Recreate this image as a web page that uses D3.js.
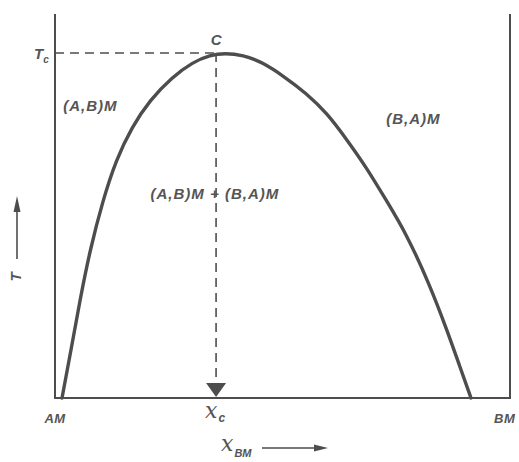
<!DOCTYPE html>
<html>
<head>
<meta charset="utf-8">
<script src="https://cdn.jsdelivr.net/npm/d3@7"></script>
<style>
  html, body { margin: 0; padding: 0; background: #fff; }
  svg { display: block; }
  .lbl { font-family: "Liberation Sans", Arial, sans-serif; font-style: italic; font-weight: bold; fill: #555; }
  .math { font-family: "DejaVu Serif", "Liberation Serif", serif; font-style: italic; fill: #555; }
</style>
</head>
<body>
<svg id="chart" width="519" height="462"></svg>
<script>
// Solvus (miscibility gap) of the (A,B)M – (B,A)M system.
// Composition x_BM runs from 0 (pure AM) to 1 (pure BM); T is scaled by Tc.
const solvusX = [0.0154, 0.0352, 0.0549, 0.0769, 0.1055, 0.1341, 0.1692, 0.2088, 0.2571, 0.3033, 0.3407, 0.3736, 0.4132, 0.4549, 0.5055, 0.5516, 0.5978, 0.6418, 0.6835, 0.7275, 0.7714, 0.8220, 0.8615, 0.8901, 0.9143];
const solvusT = [0.000, 0.139, 0.284, 0.429, 0.574, 0.690, 0.786, 0.864, 0.930, 0.974, 0.994, 1.000, 0.994, 0.974, 0.930, 0.884, 0.826, 0.748, 0.670, 0.574, 0.478, 0.333, 0.197, 0.090, 0.000];

// critical point C
const criticalX = [0.354];
const criticalT = [1.0];

// end-member labels along the composition axis
const endMembers = ["AM", "BM"];
const endMemberX = [0, 1];

// phase-field labels
const phaseLabels = ["(A,B)M", "(B,A)M", "(A,B)M + (B,A)M"];
const phaseX = [0.018, 0.728, 0.21];
const phaseT = [0.845, 0.81, 0.59];

const svg = d3.select("#chart");
const ink = "#4d4d4d";

const x = d3.scaleLinear().domain([0, 1]).range([55, 510]);
const y = d3.scaleLinear().domain([0, 1]).range([398, 53]);
const tTop = 1.113;

// frame: left axis, bottom axis, right edge
svg.append("path")
  .attr("d", `M${x(0)},${y(tTop)} L${x(0)},${y(0)} L${x(1)},${y(0)} L${x(1)},${y(tTop)}`)
  .attr("fill", "none").attr("stroke", ink).attr("stroke-width", 2);

// solvus curve (B-spline through the sampled points keeps it smooth)
const pts = solvusX.map((v, i) => [v, solvusT[i]]);
const line = d3.line().x(d => x(d[0])).y(d => y(d[1])).curve(d3.curveBasis);
svg.append("path").datum(pts)
  .attr("d", line)
  .attr("fill", "none").attr("stroke", ink).attr("stroke-width", 3.4)
  .attr("stroke-linecap", "round");

// dashed guides to Tc and xc
const xc = criticalX[0], tc = criticalT[0];
svg.append("line")
  .attr("x1", x(0)).attr("x2", x(xc)).attr("y1", y(tc)).attr("y2", y(tc))
  .attr("stroke", ink).attr("stroke-width", 1.6).attr("stroke-dasharray", "9,6");
svg.append("line")
  .attr("x1", x(xc)).attr("x2", x(xc)).attr("y1", y(tc)).attr("y2", y(0) - 14)
  .attr("stroke", ink).attr("stroke-width", 1.6).attr("stroke-dasharray", "9,6");

// arrowhead marking xc on the composition axis
svg.append("path")
  .attr("d", `M${x(xc) - 10},${y(0) - 15} L${x(xc) + 10},${y(0) - 15} L${x(xc)},${y(0) - 1} Z`)
  .attr("fill", ink);

// C label
svg.append("text").attr("class", "lbl")
  .attr("x", x(xc)).attr("y", y(tc) - 8)
  .attr("text-anchor", "middle").attr("font-size", 15)
  .text("C");

// Tc label
const tcLabel = svg.append("text").attr("class", "lbl")
  .attr("x", 34).attr("y", y(tc) + 6).attr("font-size", 15);
tcLabel.append("tspan").text("T");
tcLabel.append("tspan").attr("dx", 0).attr("dy", 4).attr("font-size", 10).text("c");

// phase fields
phaseLabels.forEach((t, i) => {
  svg.append("text").attr("class", "lbl")
    .attr("x", x(phaseX[i])).attr("y", y(phaseT[i]) + 5)
    .attr("font-size", 15).attr("letter-spacing", 1)
    .text(t);
});

// end members
endMembers.forEach((t, i) => {
  svg.append("text").attr("class", "lbl")
    .attr("x", x(endMemberX[i])).attr("y", y(0) + 25)
    .attr("text-anchor", i === 0 ? "middle" : "start")
    .attr("dx", i === 0 ? 0 : -16)
    .attr("font-size", 13).attr("letter-spacing", 0.5)
    .text(t);
});

// xc label
const xcLabel = svg.append("text")
  .attr("x", x(xc) - 11).attr("y", y(0) + 20);
xcLabel.append("tspan").attr("class", "math").attr("font-size", 22).text("x");
xcLabel.append("tspan").attr("class", "lbl").attr("dx", 1).attr("dy", 4).attr("font-size", 12).text("c");

// composition axis title with arrow
const xt = svg.append("text").attr("x", 221).attr("y", 451);
xt.append("tspan").attr("class", "math").attr("font-size", 22).text("x");
xt.append("tspan").attr("class", "lbl").attr("dx", 1).attr("dy", 6).attr("font-size", 11).text("BM");

svg.append("line").attr("x1", 262).attr("x2", 318).attr("y1", 448).attr("y2", 448)
  .attr("stroke", ink).attr("stroke-width", 1.6);
svg.append("path").attr("d", "M314,444.5 L328,448 L314,451.5 Z").attr("fill", ink);

// temperature axis title with arrow
svg.append("text").attr("class", "lbl")
  .attr("transform", "translate(21,277) rotate(-90)")
  .attr("text-anchor", "middle").attr("font-size", 15)
  .text("T");
svg.append("line").attr("x1", 17).attr("x2", 17).attr("y1", 259).attr("y2", 208)
  .attr("stroke", ink).attr("stroke-width", 1.6);
svg.append("path").attr("d", "M13.5,212 L17,196 L20.5,212 Z").attr("fill", ink);
</script>
</body>
</html>
